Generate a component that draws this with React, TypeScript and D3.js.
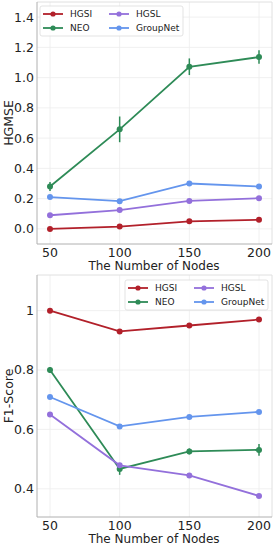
import React from 'react'
import * as d3 from 'd3'

// x categories
const nodes = [50, 100, 150, 200]

// HGMSE (top panel)
const hgmseHGSI = [0.0, 0.015, 0.05, 0.06]
const hgmseNEO = [0.28, 0.658, 1.072, 1.136]
const hgmseNEOErr = [0.03, 0.085, 0.055, 0.045]
const hgmseHGSL = [0.09, 0.124, 0.185, 0.203]
const hgmseGroupNet = [0.21, 0.183, 0.3, 0.28]
const hgmseTicks = [0.0, 0.2, 0.4, 0.6, 0.8, 1.0, 1.2, 1.4]

// F1-Score (bottom panel)
const f1HGSI = [1.0, 0.93, 0.95, 0.97]
const f1NEO = [0.8, 0.467, 0.526, 0.531]
const f1NEOErr = [0.01, 0.02, 0.01, 0.02]
const f1HGSL = [0.65, 0.479, 0.445, 0.376]
const f1GroupNet = [0.709, 0.61, 0.642, 0.659]
const f1Ticks = [0.4, 0.6, 0.8, 1.0]
const f1TickLabels = ['0.4', '0.6', '0.8', '1']

const colors: Record<string, string> = {
  HGSI: '#b2202a',
  NEO: '#2e8b57',
  HGSL: '#9370db',
  GroupNet: '#6495ed',
}

const font = "'DejaVu Sans', sans-serif"

type Series = { name: string; values: number[]; err?: number[] }

function Panel(props: {
  top: number
  bottom: number
  domain: [number, number]
  ticks: number[]
  tickLabels: string[]
  ylabel: string
  series: Series[]
  legendX: number
  legendY: number
}) {
  const left = 37
  const right = 272
  const { top, bottom } = props
  const x = d3.scaleLinear().domain([50, 200]).range([50, 259])
  const y = d3.scaleLinear().domain(props.domain).range([bottom, top])
  const line = d3
    .line<number>()
    .x((d, i) => x(nodes[i]))
    .y((d) => y(d))

  const legendOrder = [
    ['HGSI', 'NEO'],
    ['HGSL', 'GroupNet'],
  ]

  return (
    <g>
      {/* grid */}
      {nodes.map((n) => (
        <line key={'gx' + n} x1={x(n)} x2={x(n)} y1={top} y2={bottom} stroke="#ececec" strokeWidth={0.8} />
      ))}
      {props.ticks.map((t) => (
        <line key={'gy' + t} x1={left} x2={right} y1={y(t)} y2={y(t)} stroke="#ececec" strokeWidth={0.8} />
      ))}
      {/* frame */}
      <line x1={left} x2={right} y1={top} y2={top} stroke="#e0e0e0" />
      <line x1={right} x2={right} y1={top} y2={bottom} stroke="#e0e0e0" />
      <line x1={left} x2={left} y1={top} y2={bottom} stroke="#b0b0b0" />
      <line x1={left} x2={right} y1={bottom} y2={bottom} stroke="#b0b0b0" />

      {/* tick labels */}
      {props.ticks.map((t, i) => (
        <text key={'ty' + t} x={left - 3} y={y(t)} dy="0.35em" textAnchor="end" fontSize={12.5} fontFamily={font} fill="#222">
          {props.tickLabels[i]}
        </text>
      ))}
      {nodes.map((n) => (
        <text key={'tx' + n} x={x(n)} y={bottom + 12.5} textAnchor="middle" fontSize={12.5} fontFamily={font} fill="#222">
          {n}
        </text>
      ))}
      <text x={154} y={bottom + 26} textAnchor="middle" fontSize={12} fontFamily={font} fill="#222">
        The Number of Nodes
      </text>
      <text
        transform={`translate(13,${(top + bottom) / 2}) rotate(-90)`}
        textAnchor="middle"
        fontSize={12.5}
        fontFamily={font}
        fill="#222"
      >
        {props.ylabel}
      </text>

      {/* series */}
      {props.series.map((s) => (
        <g key={s.name}>
          <path d={line(s.values) || ''} fill="none" stroke={colors[s.name]} strokeWidth={1.8} />
          {s.err &&
            s.values.map((v, i) => (
              <line
                key={'e' + i}
                x1={x(nodes[i])}
                x2={x(nodes[i])}
                y1={y(v - s.err![i])}
                y2={y(v + s.err![i])}
                stroke={colors[s.name]}
                strokeWidth={1.5}
              />
            ))}
          {s.values.map((v, i) => (
            <circle key={'c' + i} cx={x(nodes[i])} cy={y(v)} r={3} fill={colors[s.name]} />
          ))}
        </g>
      ))}

      {/* legend */}
      <rect x={props.legendX} y={props.legendY} width={143} height={30} rx={2} fill="white" fillOpacity={0.85} stroke="#dcdcdc" strokeWidth={0.8} />
      {legendOrder.map((col, ci) =>
        col.map((name, ri) => {
          const lx = props.legendX + 3 + ci * 66
          const ly = props.legendY + 8 + ri * 14
          return (
            <g key={name}>
              <line x1={lx} x2={lx + 20} y1={ly} y2={ly} stroke={colors[name]} strokeWidth={1.8} />
              <circle cx={lx + 10} cy={ly} r={2.6} fill={colors[name]} />
              <text x={lx + 27} y={ly} dy="0.35em" fontSize={9} fontFamily={font} fill="#222">
                {name}
              </text>
            </g>
          )
        })
      )}
    </g>
  )
}

export default function App() {
  return (
    <svg width={273} height={545} style={{ position: 'absolute', left: 0, top: 0, background: 'white' }}>
      <Panel
        top={2}
        bottom={244}
        domain={[-0.1, 1.5]}
        ticks={hgmseTicks}
        tickLabels={hgmseTicks.map((t) => t.toFixed(1))}
        ylabel="HGMSE"
        series={[
          { name: 'HGSI', values: hgmseHGSI },
          { name: 'NEO', values: hgmseNEO, err: hgmseNEOErr },
          { name: 'HGSL', values: hgmseHGSL },
          { name: 'GroupNet', values: hgmseGroupNet },
        ]}
        legendX={40}
        legendY={6}
      />
      <Panel
        top={275}
        bottom={517}
        domain={[0.305, 1.12]}
        ticks={f1Ticks}
        tickLabels={f1TickLabels}
        ylabel="F1-Score"
        series={[
          { name: 'HGSI', values: f1HGSI },
          { name: 'NEO', values: f1NEO, err: f1NEOErr },
          { name: 'HGSL', values: f1HGSL },
          { name: 'GroupNet', values: f1GroupNet },
        ]}
        legendX={125}
        legendY={280}
      />
    </svg>
  )
}
